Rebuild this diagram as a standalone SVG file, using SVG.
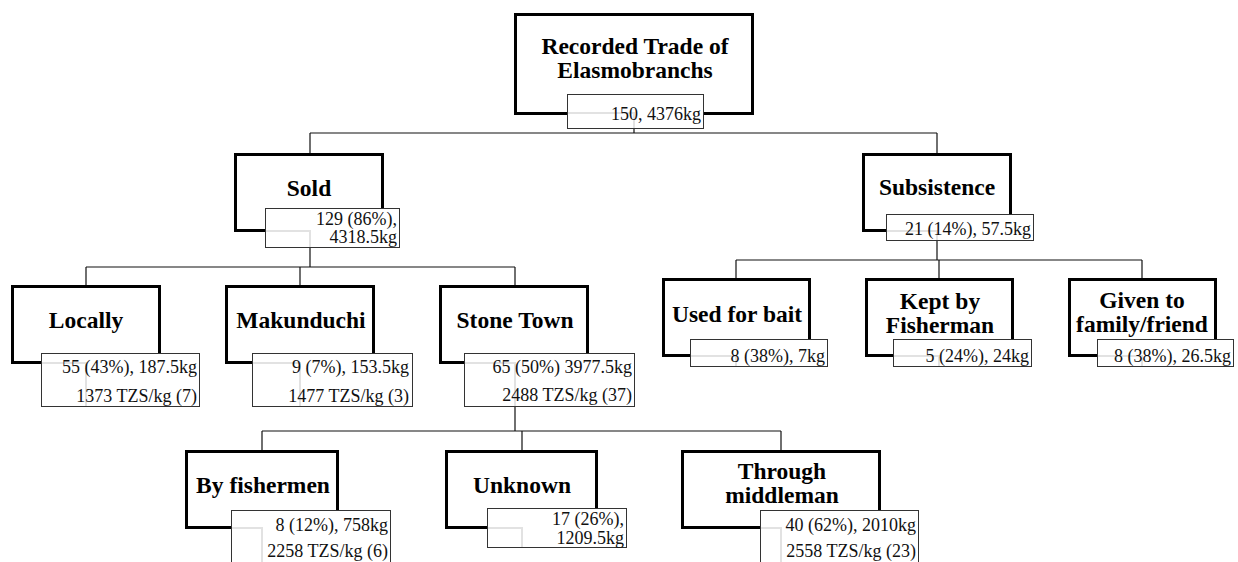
<svg xmlns="http://www.w3.org/2000/svg" width="1238" height="562" viewBox="0 0 1238 562">
<style>
.box{fill:#fff;stroke:#000;stroke-width:3}
.lab{fill:#fff;stroke:#333;stroke-width:1}
.ghost{fill:none;stroke:#e2e2e2;stroke-width:2}
.t{font-family:"Liberation Serif","Times New Roman",serif;font-weight:bold;font-size:23.5px;text-anchor:middle;fill:#000}
.v{font-family:"Liberation Serif","Times New Roman",serif;font-size:18px;text-anchor:end;fill:#111}
.c{fill:none;stroke:#111;stroke-width:1.2}
</style>
<rect width="1238" height="562" fill="#fff"/>
<g id="connectors">
<path class="c" d="M634 128V133M310 133H937M310 133V153M937 133V153"/>
<path class="c" d="M310 232V267M86 267H515M86 267V285M300 267V285M515 267V285"/>
<path class="c" d="M515 362V431M262 431H781M262 431V450M522 431V450M781 431V450"/>
<path class="c" d="M937 232V260M736 260H1142M736 260V278M939 260V278M1142 260V278"/>
</g>
<g id="root">
<rect class="box" x="515.5" y="14.5" width="237" height="99"/>
<text class="t" x="635" y="54">Recorded Trade of</text>
<text class="t" x="635" y="78">Elasmobranchs</text>
<rect class="lab" x="567.5" y="94.5" width="136" height="34"/>
<path class="ghost" d="M568 113H634V128"/>
<text class="v" x="701" y="120">150, 4376kg</text>
</g>
<g id="sold">
<rect class="box" x="235.5" y="154.5" width="147" height="76"/>
<text class="t" x="309" y="196">Sold</text>
<rect class="lab" x="265.5" y="208.5" width="134" height="39"/>
<path class="ghost" d="M266 231H310V247"/>
<text class="v" x="397" y="225">129 (86%),</text>
<text class="v" x="397" y="243">4318.5kg</text>
</g>
<g id="subsistence">
<rect class="box" x="863.5" y="154.5" width="147" height="76"/>
<text class="t" x="937" y="195">Subsistence</text>
<rect class="lab" x="886.5" y="214.5" width="147" height="26"/>
<path class="ghost" d="M887 231H937V240"/>
<text class="v" x="1031" y="235">21 (14%), 57.5kg</text>
</g>
<g id="locally">
<rect class="box" x="12.5" y="286.5" width="147" height="76"/>
<text class="t" x="86" y="328">Locally</text>
<rect class="lab" x="41.5" y="353.5" width="158" height="53"/>
<path class="ghost" d="M42 363H86V406"/>
<text class="v" x="197" y="373">55 (43%), 187.5kg</text>
<text class="v" x="197" y="402">1373 TZS/kg (7)</text>
</g>
<g id="makunduchi">
<rect class="box" x="226.5" y="286.5" width="147" height="76"/>
<text class="t" x="301" y="328">Makunduchi</text>
<rect class="lab" x="252.5" y="353.5" width="160" height="53"/>
<path class="ghost" d="M253 363H300V406"/>
<text class="v" x="409" y="373">9 (7%), 153.5kg</text>
<text class="v" x="409" y="402">1477 TZS/kg (3)</text>
</g>
<g id="stonetown">
<rect class="box" x="440.5" y="286.5" width="147" height="76"/>
<text class="t" x="515" y="328">Stone Town</text>
<rect class="lab" x="464.5" y="353.5" width="170" height="53"/>
<path class="ghost" d="M465 363H515V406"/>
<text class="v" x="632" y="373">65 (50%) 3977.5kg</text>
<text class="v" x="632" y="401">2488 TZS/kg (37)</text>
</g>
<g id="byfishermen">
<rect class="box" x="186.5" y="451.5" width="151" height="76"/>
<text class="t" x="263" y="493">By fishermen</text>
<rect class="lab" x="231.5" y="510.5" width="159" height="70"/>
<path class="ghost" d="M232 528H262V562"/>
<text class="v" x="388" y="531">8 (12%), 758kg</text>
<text class="v" x="388" y="557">2258 TZS/kg (6)</text>
</g>
<g id="unknown">
<rect class="box" x="446.5" y="451.5" width="150" height="76"/>
<text class="t" x="522" y="493">Unknown</text>
<rect class="lab" x="487.5" y="508.5" width="139" height="39"/>
<path class="ghost" d="M488 528H522V547"/>
<text class="v" x="624" y="525">17 (26%),</text>
<text class="v" x="624" y="544">1209.5kg</text>
</g>
<g id="throughmiddleman">
<rect class="box" x="682.5" y="451.5" width="197" height="76"/>
<text class="t" x="782" y="479">Through</text>
<text class="t" x="782" y="503">middleman</text>
<rect class="lab" x="760.5" y="510.5" width="158" height="70"/>
<path class="ghost" d="M761 528H781V562"/>
<text class="v" x="916" y="531">40 (62%), 2010kg</text>
<text class="v" x="916" y="557">2558 TZS/kg (23)</text>
</g>
<g id="bait">
<rect class="box" x="663.5" y="279.5" width="146" height="76"/>
<text class="t" x="737" y="322">Used for bait</text>
<rect class="lab" x="690.5" y="339.5" width="137" height="27"/>
<path class="ghost" d="M691 356H736V366"/>
<text class="v" x="825" y="362">8 (38%), 7kg</text>
</g>
<g id="kept">
<rect class="box" x="866.5" y="279.5" width="146" height="76"/>
<text class="t" x="940" y="309">Kept by</text>
<text class="t" x="940" y="333">Fisherman</text>
<rect class="lab" x="893.5" y="339.5" width="138" height="27"/>
<path class="ghost" d="M894 356H939V366"/>
<text class="v" x="1029" y="362">5 (24%), 24kg</text>
</g>
<g id="given">
<rect class="box" x="1069.5" y="279.5" width="146" height="76"/>
<text class="t" x="1142" y="308">Given to</text>
<text class="t" x="1142" y="332">family/friend</text>
<rect class="lab" x="1097.5" y="339.5" width="136" height="27"/>
<path class="ghost" d="M1098 356H1142V366"/>
<text class="v" x="1231" y="362">8 (38%), 26.5kg</text>
</g>
</svg>
